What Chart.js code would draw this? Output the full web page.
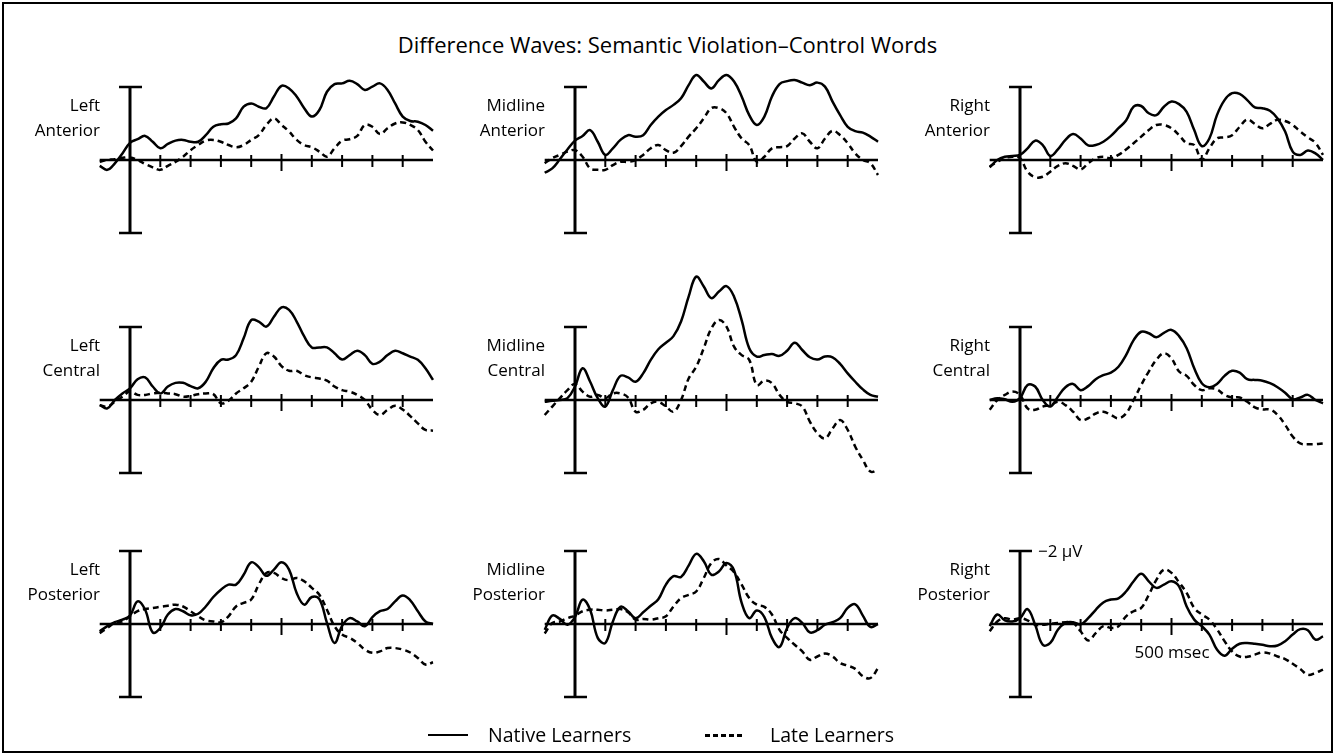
<!DOCTYPE html>
<html><head><meta charset="utf-8">
<script src="https://cdn.jsdelivr.net/npm/chart.js@4.4.1/dist/chart.umd.min.js"></script>
<style>
html,body{margin:0;padding:0;background:#fff;}
body{width:1335px;height:755px;position:relative;overflow:hidden;font-family:"Open Sans",sans-serif;color:#000;}
#frame{position:absolute;left:2px;top:2px;width:1331px;height:751px;border:2px solid #000;box-sizing:border-box;}
canvas{position:absolute;}
.lbl{position:absolute;font-size:17px;line-height:25px;text-align:right;width:140px;white-space:nowrap;}
.txt{position:absolute;white-space:nowrap;}
</style>
</head><body>
<div id="frame"></div>
<div class="txt" id="title" style="left:0;width:1335px;text-align:center;top:27px;font-size:22px;line-height:34px;"></div>
<div id="panels"></div>
<div class="txt" style="left:428px;top:734px;width:40px;border-top:2px solid #000;"></div>
<div class="txt" id="leg1" style="left:488px;top:721px;font-size:19.5px;line-height:28px;"></div>
<div class="txt" style="left:705px;top:734px;width:38px;height:3px;background:repeating-linear-gradient(90deg,#000 0 5px,transparent 5px 8px);"></div>
<div class="txt" id="leg2" style="left:770px;top:721px;font-size:19.5px;line-height:28px;"></div>
<script>
// ---- data (µV, negative plotted upward) ----
const times = [-100,-75,-50,-25,0,25,50,75,100,125,150,175,200,225,250,275,300,325,350,375,400,425,450,475,500,525,550,575,600,625,650,675,700,725,750,775,800,825,850,875,900,925,950,975,1000];
const tickTimes = [100,200,300,400,500,600,700,800,900];
const titleText = "Difference Waves: Semantic Violation\u2013Control Words";
const seriesNames = ["Native Learners","Late Learners"];
const regionLabels = [["Left","Anterior"],["Midline","Anterior"],["Right","Anterior"],["Left","Central"],["Midline","Central"],["Right","Central"],["Left","Posterior"],["Midline","Posterior"],["Right","Posterior"]];
const scaleLabelV = "\u22122 \u00b5V";
const scaleLabelT = "500 msec";

const nativeLeftAnterior = [0.16,0.27,0.09,-0.18,-0.47,-0.57,-0.66,-0.50,-0.32,-0.44,-0.53,-0.55,-0.50,-0.50,-0.68,-0.91,-0.98,-1.00,-1.14,-1.46,-1.55,-1.46,-1.42,-1.74,-2.03,-1.96,-1.74,-1.42,-1.19,-1.37,-1.87,-2.08,-2.10,-2.17,-2.08,-1.92,-2.01,-2.10,-1.92,-1.55,-1.19,-1.07,-1.05,-0.96,-0.80];
const lateLeftAnterior = [0.05,0,-0.02,-0.06,-0.07,0,0.11,0.20,0.27,0.16,0.05,-0.09,-0.27,-0.41,-0.53,-0.55,-0.50,-0.41,-0.35,-0.41,-0.55,-0.68,-0.96,-1.14,-0.96,-0.78,-0.55,-0.41,-0.35,-0.23,-0.09,-0.32,-0.53,-0.57,-0.66,-0.96,-0.91,-0.71,-0.87,-1.00,-1.03,-0.96,-0.82,-0.50,-0.26];
const nativeMidlineAnterior = [0.35,0.23,-0.02,-0.29,-0.53,-0.66,-0.82,-0.50,-0.14,-0.32,-0.55,-0.68,-0.64,-0.68,-0.96,-1.19,-1.37,-1.51,-1.69,-2.05,-2.33,-2.15,-1.96,-2.19,-2.33,-2.15,-1.74,-1.23,-0.96,-1.19,-1.74,-2.08,-2.16,-2.19,-2.12,-2.05,-2.12,-2.01,-1.60,-1.23,-0.91,-0.79,-0.75,-0.64,-0.50];
const lateMidlineAnterior = [0.09,-0.05,-0.14,-0.23,-0.27,-0.09,0.23,0.27,0.27,0.14,0.05,0.05,0,-0.14,-0.32,-0.41,-0.27,-0.20,-0.38,-0.64,-0.87,-1.14,-1.42,-1.42,-1.28,-0.91,-0.59,-0.41,0.05,-0.09,-0.32,-0.35,-0.38,-0.59,-0.73,-0.50,-0.32,-0.59,-0.80,-0.68,-0.46,-0.18,0,0.09,0.41];
const nativeRightAnterior = [0.20,0,-0.09,-0.11,-0.14,-0.32,-0.53,-0.41,-0.11,-0.29,-0.55,-0.71,-0.59,-0.40,-0.41,-0.50,-0.66,-0.87,-1.08,-1.46,-1.48,-1.28,-1.23,-1.46,-1.60,-1.53,-1.32,-0.82,-0.38,-0.59,-1.23,-1.64,-1.83,-1.81,-1.64,-1.44,-1.42,-1.35,-1.14,-0.78,-0.23,-0.14,-0.26,-0.18,0];
const lateRightAnterior = [0.18,0.05,-0.05,-0.09,-0.05,0.32,0.47,0.46,0.32,0.16,0.09,0.16,0.26,0.09,-0.05,-0.09,-0.05,-0.14,-0.29,-0.46,-0.64,-0.82,-0.96,-0.96,-0.87,-0.68,-0.46,-0.41,0,-0.32,-0.59,-0.62,-0.68,-0.91,-1.11,-0.99,-0.87,-0.99,-1.10,-1.07,-0.96,-0.78,-0.62,-0.47,-0.14];
const nativeLeftCentral = [0.14,0.23,0,-0.18,-0.32,-0.57,-0.62,-0.37,-0.18,-0.37,-0.47,-0.47,-0.38,-0.32,-0.50,-0.87,-1.10,-1.11,-1.23,-1.69,-2.19,-2.15,-2.01,-2.28,-2.54,-2.47,-2.15,-1.74,-1.44,-1.44,-1.44,-1.28,-1.11,-1.23,-1.35,-1.23,-0.99,-1.05,-1.23,-1.35,-1.28,-1.19,-1.10,-0.87,-0.55];
const lateLeftCentral = [0.14,0.18,0.05,-0.09,-0.23,-0.14,-0.14,-0.18,-0.20,-0.18,-0.16,-0.09,-0.11,-0.16,-0.18,-0.16,0.09,0.02,-0.18,-0.32,-0.50,-0.91,-1.28,-1.19,-0.93,-0.80,-0.80,-0.68,-0.62,-0.59,-0.53,-0.37,-0.27,-0.23,-0.14,0,0.27,0.41,0.27,0.16,0.26,0.44,0.64,0.82,0.84];
const nativeMidlineCentral = [0.05,0.02,0,-0.05,-0.37,-0.87,-0.50,-0.05,0.18,-0.27,-0.66,-0.62,-0.50,-0.73,-1.10,-1.39,-1.57,-1.75,-2.15,-2.83,-3.38,-3.11,-2.79,-2.97,-3.12,-2.83,-2.19,-1.42,-1.19,-1.23,-1.26,-1.21,-1.35,-1.57,-1.37,-1.17,-1.11,-1.19,-1.17,-0.99,-0.73,-0.50,-0.29,-0.14,-0.09];
const lateMidlineCentral = [0.41,0.18,-0.05,-0.27,-0.44,-0.23,-0.09,-0.14,-0.05,-0.18,-0.18,-0.07,0.32,0.27,0.09,0.05,0.18,0.32,0,-0.59,-0.91,-1.42,-1.96,-2.19,-2.01,-1.46,-1.23,-1.10,-0.41,-0.53,-0.46,-0.14,0.05,0.09,0.18,0.59,0.91,1.05,0.78,0.55,0.82,1.28,1.64,1.96,1.92];
const nativeRightCentral = [0,-0.05,-0.02,0.05,-0.05,-0.41,-0.37,0,0.18,-0.09,-0.35,-0.44,-0.27,-0.38,-0.57,-0.68,-0.75,-0.91,-1.23,-1.64,-1.87,-1.83,-1.72,-1.84,-1.92,-1.75,-1.42,-0.87,-0.46,-0.35,-0.44,-0.66,-0.80,-0.75,-0.57,-0.55,-0.53,-0.46,-0.35,-0.20,-0.02,-0.07,-0.14,0,0.09];
const lateRightCentral = [0.27,0,-0.14,-0.23,-0.14,0.23,0.27,0.18,0.14,0.05,0.14,0.32,0.55,0.50,0.37,0.32,0.41,0.50,0.37,0,-0.41,-0.78,-1.10,-1.28,-1.14,-0.78,-0.66,-0.41,-0.27,-0.32,-0.29,-0.14,-0.07,-0.07,0.05,0.20,0.26,0.26,0.41,0.68,1.00,1.19,1.21,1.21,1.19];
const nativeLeftPosterior = [0.20,0.06,-0.05,-0.12,-0.23,-0.62,-0.39,0.23,0.11,-0.26,-0.41,-0.35,-0.24,-0.28,-0.48,-0.74,-0.94,-1.08,-1.08,-1.35,-1.69,-1.56,-1.32,-1.49,-1.69,-1.49,-0.85,-0.53,-0.74,-0.68,-0.03,0.52,0.05,-0.16,-0.07,0.06,-0.19,-0.35,-0.41,-0.62,-0.78,-0.65,-0.35,-0.07,0];
const lateLeftPosterior = [0.25,0.11,-0.03,-0.07,-0.21,-0.35,-0.41,-0.44,-0.47,-0.50,-0.53,-0.48,-0.35,-0.21,-0.10,-0.07,-0.05,-0.21,-0.48,-0.58,-0.67,-1.08,-1.40,-1.40,-1.26,-1.20,-1.26,-1.17,-0.99,-0.80,-0.39,0.06,0.29,0.38,0.52,0.70,0.79,0.75,0.66,0.66,0.70,0.78,0.93,1.11,1.05];
const nativeMidlinePosterior = [0.16,-0.23,-0.14,0.02,-0.19,-0.67,-0.39,0.38,0.52,-0.07,-0.47,-0.35,-0.16,-0.32,-0.50,-0.68,-1.08,-1.31,-1.29,-1.60,-1.92,-1.72,-1.35,-1.44,-1.67,-1.47,-0.58,-0.16,-0.37,-0.19,0.38,0.63,0.11,-0.16,-0.03,0.23,0.17,0.02,-0.05,-0.16,-0.44,-0.54,-0.23,0.08,0];
const lateMidlinePosterior = [0.26,-0.03,-0.07,-0.16,-0.23,-0.35,-0.39,-0.39,-0.37,-0.39,-0.41,-0.32,-0.12,-0.14,-0.12,-0.16,-0.21,-0.48,-0.71,-0.80,-0.89,-1.26,-1.67,-1.78,-1.60,-1.42,-1.08,-0.71,-0.53,-0.47,-0.26,0.16,0.38,0.57,0.75,0.98,0.89,0.81,0.89,1.07,1.14,1.23,1.43,1.48,1.21];
const nativeRightPosterior = [0.06,-0.26,-0.10,-0.07,-0.16,-0.41,0.02,0.57,0.52,0.16,-0.03,-0.05,0.01,-0.16,-0.39,-0.59,-0.67,-0.70,-0.89,-1.17,-1.38,-1.17,-0.99,-1.08,-1.17,-1.03,-0.48,-0.12,0.06,0.29,0.70,0.87,0.68,0.54,0.52,0.54,0.57,0.61,0.59,0.47,0.29,0.14,0.17,0.43,0.34];
const lateRightPosterior = [0.20,-0.07,-0.16,-0.12,-0.16,-0.10,0.02,0.02,-0.01,-0.03,-0.05,-0.03,0.20,0.45,0.25,0.06,0.11,0.06,-0.21,-0.35,-0.44,-0.80,-1.21,-1.49,-1.40,-1.14,-0.85,-0.44,-0.26,-0.12,0.14,0.47,0.75,0.89,0.90,0.84,0.78,0.81,0.89,0.96,1.09,1.23,1.39,1.34,1.25];

const nativeSeries = [nativeLeftAnterior,nativeMidlineAnterior,nativeRightAnterior,nativeLeftCentral,nativeMidlineCentral,nativeRightCentral,nativeLeftPosterior,nativeMidlinePosterior,nativeRightPosterior];
const lateSeries = [lateLeftAnterior,lateMidlineAnterior,lateRightAnterior,lateLeftCentral,lateMidlineCentral,lateRightCentral,lateLeftPosterior,lateMidlinePosterior,lateRightPosterior];

// ---- layout ----
const colX = [130, 575, 1020];   // pixel of t = 0
const rowY = [160, 400, 624];    // pixel of 0 µV
const pxPerMs = 0.303, pxPerUV = 36.5;
const CW = 380, CH = 250, padL = 40, padT = 150;

document.getElementById('title').textContent = titleText;
document.getElementById('leg1').textContent = seriesNames[0];
document.getElementById('leg2').textContent = seriesNames[1];

const axesPlugin = {
  id: 'erpAxes',
  beforeDatasetsDraw(chart) {
    const {ctx} = chart; const x = chart.scales.x, y = chart.scales.y;
    const x0 = x.getPixelForValue(0), yb = y.getPixelForValue(0);
    const yT = y.getPixelForValue(-2), yB = y.getPixelForValue(2);
    ctx.save(); ctx.strokeStyle = '#000'; ctx.lineCap = 'butt';
    ctx.lineWidth = 2.6; ctx.beginPath();
    ctx.moveTo(x.getPixelForValue(-100), yb); ctx.lineTo(x.getPixelForValue(1000), yb); ctx.stroke();
    ctx.lineWidth = 2;
    tickTimes.forEach(t => {
      const px = x.getPixelForValue(t), big = t === 500;
      ctx.beginPath(); ctx.moveTo(px, yb - (big ? 6 : 5)); ctx.lineTo(px, yb + (big ? 11 : 7)); ctx.stroke();
    });
    ctx.lineWidth = 3; ctx.beginPath(); ctx.moveTo(x0, yT - 1); ctx.lineTo(x0, yB + 1); ctx.stroke();
    ctx.lineWidth = 2.6; ctx.beginPath();
    ctx.moveTo(x0 - 11, yT); ctx.lineTo(x0 + 12, yT);
    ctx.moveTo(x0 - 11, yB); ctx.lineTo(x0 + 12, yB); ctx.stroke();
    ctx.restore();
  }
};

const host = document.getElementById('panels');
for (let p = 0; p < 9; p++) {
  const c = p % 3, r = Math.floor(p / 3);
  const x0 = colX[c], y0 = rowY[r];
  const cv = document.createElement('canvas');
  cv.width = CW; cv.height = CH;
  cv.style.left = (x0 - padL) + 'px'; cv.style.top = (y0 - padT) + 'px';
  host.appendChild(cv);
  const xmin = -padL / pxPerMs, xmax = xmin + CW / pxPerMs;
  const ymin = -padT / pxPerUV, ymax = ymin + CH / pxPerUV;
  new Chart(cv, {
    type: 'line',
    data: { datasets: [
      { label: seriesNames[0], data: times.map((t, i) => ({x: t, y: nativeSeries[p][i]})), borderColor: '#000', borderWidth: 2.5, pointRadius: 0, tension: 0.4, fill: false },
      { label: seriesNames[1], data: times.map((t, i) => ({x: t, y: lateSeries[p][i]})), borderColor: '#000', borderWidth: 2.5, borderDash: [6, 4], pointRadius: 0, tension: 0.4, fill: false }
    ]},
    options: {
      responsive: false, animation: false, events: [],
      layout: { padding: 0 },
      plugins: { legend: { display: false }, tooltip: { enabled: false } },
      scales: {
        x: { type: 'linear', min: xmin, max: xmax, display: false },
        y: { type: 'linear', min: ymin, max: ymax, reverse: true, display: false }
      }
    },
    plugins: [axesPlugin]
  });
  const lb = document.createElement('div');
  lb.className = 'lbl';
  lb.style.left = (x0 - 30 - 140) + 'px';
  lb.style.top = (y0 - 68) + 'px';
  lb.innerHTML = regionLabels[p][0] + '<br>' + regionLabels[p][1];
  host.appendChild(lb);
  if (p === 8) {
    const a = document.createElement('div'); a.className = 'txt';
    a.style.cssText = 'left:' + (x0 + 18) + 'px;top:' + (y0 - 73 - 13) + 'px;font-size:17px;line-height:26px;';
    a.textContent = scaleLabelV; host.appendChild(a);
    const b = document.createElement('div'); b.className = 'txt';
    b.style.cssText = 'left:' + (x0 + 152 - 100) + 'px;width:200px;text-align:center;top:' + (y0 + 15) + 'px;font-size:17px;line-height:26px;';
    b.textContent = scaleLabelT; host.appendChild(b);
  }
}
</script>
</body></html>
